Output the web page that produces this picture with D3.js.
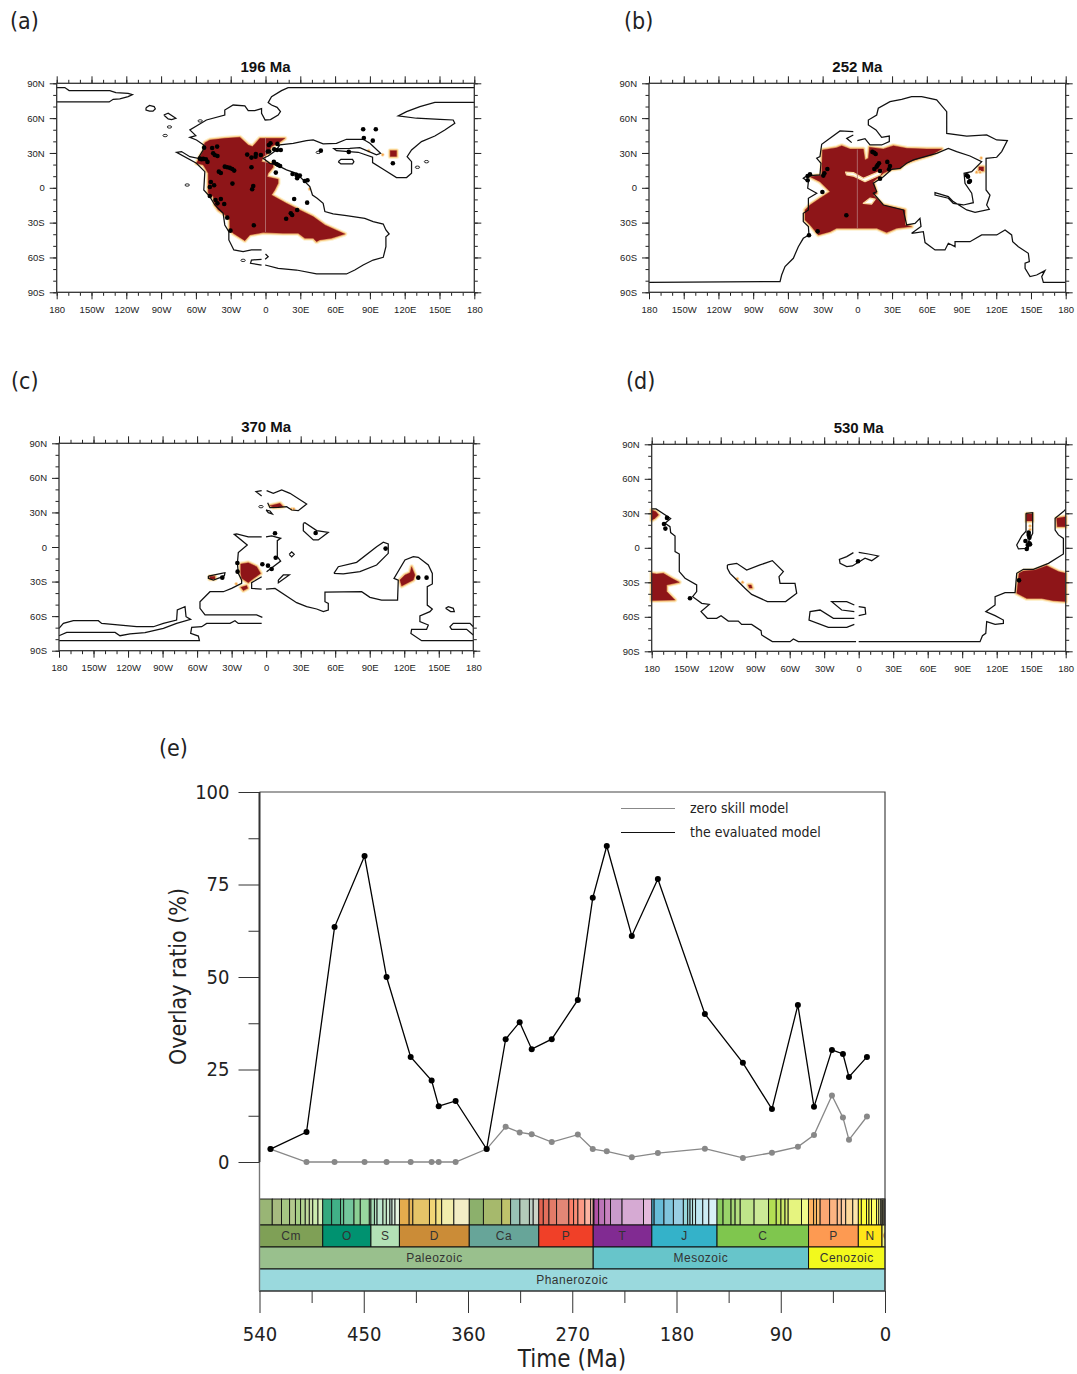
<!DOCTYPE html>
<html>
<head>
<meta charset="utf-8">
<script src="https://cdn.jsdelivr.net/npm/d3@7"></script>
<style>
  html, body { margin: 0; padding: 0; background: #fff; }
  svg { display: block; }
  text { font-family: "Liberation Sans", Arial, sans-serif; }
  .e-font { font-family: "DejaVu Sans Condensed", "DejaVu Sans", sans-serif; font-stretch: condensed; }
</style>
</head>
<body>
<div id="chart"></div>
<script>
//** map tick labels */
const lonTicks = [-180,-150,-120,-90,-60,-30,0,30,60,90,120,150,180];
const latTicks = [-90,-60,-30,0,30,60,90];
const lonMinor = d3.range(-180,181,10);
const latMinor = d3.range(-90,91,10);

//** (a) 196 Ma, all [lon, lat] */
const titleA = "196 Ma";
const coastA = [
  [[-180,86.3],[-173,86.3],[-169.3,83.7],[-134.2,83.7],[-129,82],[-118.4,81.4],[-114.7,80.2],[-118.4,78.5],[-125.6,76.5],[-131.3,76.2],[-134.8,73.9],[-180,73.9]],
  [[180,86.3],[19.5,86.3],[13.8,83.7],[5.2,78.5],[2.3,73.4],[5.2,71.3],[10,69.3],[12.9,65.6],[10.9,62.7],[4.3,58.7],[-0.3,58.4],[-3.4,64.2],[-3.4,68.2],[-9.2,66.5],[-14.9,66.5],[-17.8,70.5],[-27.9,71.3],[-35.1,67],[-35.1,62.7],[-50.9,58.4],[-58.1,54.1],[-65.2,49.8],[-60.1,44.9],[-65.2,43.5],[-59.5,41.2],[-53.2,36.9],[-53.7,32.6],[-58.1,25.4],[-65.2,26.8],[-72.4,31.2],[-76.7,30.6],[-59.5,21.1],[-52.3,13.9],[-53.2,-1.9],[-48,-7.6],[-43.7,-14.8],[-36.5,-22],[-35.1,-32],[-31.6,-37.8],[-31.6,-44.9],[-27.3,-53.5],[-19.3,-55],[-12.1,-53.5],[-3.4,-53.5]],
  [[-3.4,-61.6],[-12.1,-62.2],[-12.9,-65],[-3.4,-66.5]],
  [[0,-57],[2.3,-59.3],[-0.3,-61.6]],
  [[-0.3,-66.5],[10.9,-69.3],[26.7,-70.8],[44,-74.2],[69.8,-74.2],[77,-70.8],[84.2,-66.5],[92.8,-62.2],[101.5,-59.9],[103.8,-50.7],[103.8,-42.1],[106.6,-39.8],[103.8,-36.3],[101.5,-31.2],[92.8,-29.1],[85.6,-26.3],[69.8,-24],[58.3,-22.5],[51.2,-20.5],[49.7,-13.4],[44.5,-9],[40.5,-6.2],[38.2,1],[33.9,5.3],[26.7,12.5],[18.1,15.4],[9.5,19.7],[3.7,21.1],[-2,25.4],[2.3,27.4],[9.5,32.6],[12.4,36.9],[23.9,38.3],[35.3,40.6],[41.1,41.2],[49.7,37.8],[61.2,38.3],[69.8,41.8],[84.2,41.8],[90,38.3],[99.2,29.7],[95.7,28.3],[81.3,34.6],[72.7,34],[58.9,33.7],[61.2,32],[79.9,30.6],[92.3,26.3],[92.3,21.7],[101.5,15.9],[112.9,8.8],[121.6,8.8],[125.9,12.5],[125.9,22.5],[122.1,26.8],[125.9,32.6],[134.5,39.8],[146,44.6],[154.6,49.8],[163.2,55.6],[161.8,58.4],[150.3,59],[130.2,59.9],[114.4,61.9],[121.6,65.6],[133.1,69.9],[146,73.6],[180,73.6]],
  [[-103,69],[-100,71],[-96,70],[-95,68],[-97,66],[-100,66],[-103,67],[-103,69]],
  [[-87.7,62.7],[-83.9,64.2],[-77.3,59.9],[-81,58.7],[-83.9,59.3],[-87.7,62.7]],
  [[62.7,22.5],[65,24.5],[75,24.5],[76.2,22.5],[75,20.5],[65,20.5],[62.7,22.5]]
];
const tinyA = [[-82.8,52.4],[-86.5,45],[-56.3,57.6],[-67.5,2.4],[-19.3,-62.5],[45.5,30.5],[131,17.7],[138.8,22.5]];
const redA = [
  [[-53.2,35.5],[-52.3,38.9],[-48,41.2],[-35.1,42.6],[-22.1,43.5],[-14.9,36.9],[-11.2,35.5],[-4.9,42.6],[16.7,42.6],[10.9,38.3],[5.2,35.5],[2.3,29.7],[-2,26.8],[-3.4,22.5],[6.6,20.5],[6.6,17.7],[2.3,12.5],[1.4,9.6],[10.9,7.3],[10.9,3.9],[8,-1.9],[5.2,-6.2],[18.1,-13.4],[29.6,-19.1],[41.1,-24.8],[51.2,-32],[68.4,-39.8],[56.9,-43.5],[46.8,-44.9],[44,-46.4],[41.1,-43.5],[33.9,-43.5],[28.2,-39.2],[15.2,-39.2],[-2,-38.6],[-13.5,-40.6],[-17.8,-45.5],[-27.9,-39.2],[-30.8,-36.3],[-30.8,-27.7],[-36.5,-22],[-40.8,-19.1],[-43.7,-14.8],[-45.1,-7.6],[-49.4,-4.7],[-49.4,12.5],[-53.7,19.7],[-59.5,21.1],[-56.6,26.8],[-53.2,32.6]],
  [[107.5,32],[113,32],[113,27],[107.5,27]]
];
const holesA = [];
const spotsA = [[101,28.5],[38,-1],[89,32]];
const seamA = [43,-38];
const dotsA = [[-52.9,34.6],[-46,34.3],[-41.7,35.5],[-45.1,29.7],[-43.7,28.3],[-41.4,27.4],[-56.6,25.1],[-55.2,24.6],[-53.7,24.9],[-51.4,24.6],[-50,22.3],[-35.1,18.2],[-33,17.7],[-30.8,17.2],[-28.7,16.2],[-27,14.8],[-40.2,13.9],[-38.5,12.8],[-47.1,5],[-44.3,2.2],[-48,0.7],[-28.5,3.6],[-10.6,1.6],[-11.5,-1.3],[-15.8,28.6],[-12.1,26],[-8.3,29.1],[-8.6,26.8],[-4,28.3],[-12.1,17.7],[-48,-7],[-38.5,-9.6],[-43.1,-10.5],[-41.4,-13.4],[-35.6,-13.9],[-33,-25.7],[-30.2,-36.9],[-10.1,-32.3],[2,31.2],[3.2,31.2],[4.3,38.3],[2.9,36.9],[10.3,37.8],[7.5,33.2],[10,32.6],[13.2,32.6],[7.2,22.3],[9.5,20.5],[10.9,19.7],[12.6,18.8],[8.9,13.1],[23.3,11.9],[26.7,11.1],[28.2,10.1],[29.6,10.5],[27.3,8.2],[33.9,5.9],[36.2,6.5],[24.7,-9.6],[35.9,-12.8],[27.3,-19.1],[21.8,-22],[23,-23.4],[17.8,-26.6],[47.7,32],[71.8,30.9],[84.2,50.4],[95.1,50.4],[84.8,42.9],[92.5,40.6],[109.8,21.1]];

//** (b) 252 Ma */
const titleB = "252 Ma";
const coastB = [
  [[-3.5,48.4],[-15,49],[-30.8,37.5],[-32.3,26.8],[-35.1,25.4],[-31.4,21.1],[-32.3,11.1],[-43.8,10.2],[-46.7,8.2],[-42.3,5.3],[-42.9,-0.4],[-35.1,-4.7],[-42.3,-9],[-42.3,-19.1],[-46.7,-22],[-46.7,-29.1],[-42.3,-33.4],[-41.8,-40.6],[-46.7,-43.5],[-51,-50.7],[-55.3,-60.7],[-62.5,-67.9],[-65.4,-75.1],[-66.8,-80.8],[-180,-81.4]],
  [[-3.5,45.5],[-9.2,42.6],[-4.9,38.9]],
  [[0,40.6],[6.6,42.3],[10.9,36.9],[21,36.9],[27.6,39.8],[27.6,44.6],[21,43.5],[16.1,49.8],[9.5,54.1],[9.5,58.4],[16.7,62.7],[18.1,68.5],[28.2,74.2],[38.3,76.2],[46.9,78.5],[55.6,78.5],[68.5,75.7],[77.2,65.6],[77.2,46.9],[94.5,44.6],[111.7,45.5],[120.4,41.2],[129.6,40.6],[124.7,31.2],[120.4,26.3],[111.2,25.4],[111.2,-1.9],[114.6,-6.2],[111.7,-14.8],[114,-18.5],[101.7,-21.1],[94.5,-19.1],[82.9,-11.9],[78.6,-7.6],[67.1,-4.2],[67.1,-6.2],[78.6,-9],[82.9,-13.4],[91.6,-14.8],[100.2,-12.8],[98.8,-4.7],[93,3.9],[92.2,12.5],[98.8,13.9],[107.4,22.5],[97.3,27.4],[85.8,31.2],[78.6,34],[68.5,29.7],[48.4,24],[42.6,21.1],[36.9,16.8],[29.7,15.9],[22.5,9.6],[13.8,3.9],[16.7,-3.3],[13.8,-4.7],[22.5,-14.8],[39.7,-19.1],[42.6,-32],[49.8,-30.6],[54.1,-26.3],[55,-33.4],[46.9,-39.2],[57,-37.8],[58.5,-47.2],[67.1,-53.5],[75.7,-53.5],[78.6,-47.8],[84.4,-50.7],[84.4,-46.4],[97.3,-46.4],[107.4,-40.6],[120.4,-40.6],[127.6,-36.3],[133.3,-40.6],[134.2,-46.4],[139.1,-50.7],[147.7,-56.4],[148.6,-63.6],[144.9,-65],[144.9,-69.3],[149.2,-76.5],[154.9,-75.1],[162.1,-71.3],[159.3,-76.5],[160.7,-81.4],[180,-81.4]]
];
const tinyB = [];
const redB = [
  [[-30.2,32.6],[-17.9,34.6],[-13.5,36.3],[-6.3,33.4],[5.2,33.4],[6.6,24],[9.5,25.4],[10.4,34.9],[22.5,33.4],[31.1,36.3],[42.6,34],[59.9,33.4],[72.9,33.4],[64.2,28.3],[54.1,25.4],[45.5,22.5],[39.7,19.7],[36.9,16.8],[29.7,15.9],[22.5,12.5],[13.8,5.3],[16.7,-4.7],[13.8,-6.2],[22.5,-14.8],[41.2,-19.1],[41.2,-32],[46.9,-33.4],[34,-34.9],[25.3,-38.6],[16.7,-34.9],[-6.3,-34.9],[-17.9,-34.9],[-23.6,-37.8],[-33.7,-40.6],[-40.9,-32],[-45.2,-27.7],[-45.2,-19.1],[-40.9,-14.8],[-32.3,-9],[-23.6,-3.3],[-32.3,5.3],[-40.9,9.6],[-30.8,11.1]],
  [[105,18],[109,18],[109,14.5],[105,14.5]]
];
const holesB = [
  [[-10.1,13.4],[-3.5,13.1],[5.2,8.2],[21,14.8],[19.6,11.1],[6.6,5.3],[-3.5,10.2],[-9.2,11.1]],
  [[5.2,-13.4],[10.9,-9],[15.3,-9.9],[12.4,-13.9]]
];
const spotsB = [[107,25.7],[103,13.5],[106,13.5]];
const seamB = [33,-35];
const dotsB = [[13,30.9],[14.6,30.2],[15.8,29.1],[18.7,21.1],[17.6,19.7],[16.7,18.2],[14.7,16.2],[19.6,14.5],[25.9,22.3],[28.2,18.8],[27.4,15.9],[19.6,7.9],[-25.9,16.2],[-28.5,12.5],[-29.4,10.5],[-40.9,11.6],[-42.9,10.2],[-42.9,6.5],[-30.2,-3.6],[-9.5,-23.7],[-34.3,-37.5],[-41.8,-40.9],[94.5,10.8],[95.6,9.6],[97.3,5.9],[96.5,5]];

//** (c) 370 Ma */
const titleC = "370 Ma";
const coastC = [
  [[0.4,48.9],[6.2,46.6],[13.5,49.5],[20.7,46.6],[35.2,37.3],[27.9,31.5],[22.2,32.1],[17.8,35],[10.6,34.4],[3.3,34.1],[1.3,38.5]],
  [[-3.9,48.9],[-8.8,48],[-3.9,44.3]],
  [[0,32.1],[3.3,31.3],[5.4,28.7],[1.9,29.8],[0,32.1]],
  [[32.3,20.5],[33.7,21.1],[43.9,14.2],[54,12.7],[45.3,6.1],[41,6.1],[32.3,14.2],[32.3,20.5]],
  [[-3.9,8.7],[-15.5,8.7],[-25.6,11.3],[-27.7,11],[-16.4,1.7],[-24.2,-4.9],[-25,-14.2],[-24.2,-22.9],[-21.3,-28.7],[-21.3,-31.5],[-30,-35.9],[-37.2,-38.8],[-48.8,-38.8],[-57.5,-47.5],[-57.5,-53.2],[-53.1,-59],[-8.3,-59],[-3.3,-61.1]],
  [[-0.1,8.7],[4.8,9.6],[12.6,7.5],[9.7,5.5],[9.7,-8.4],[12.6,-12.2],[0.4,-21.4]],
  [[-3.9,-25.8],[-12.6,-31],[-12.6,-35.9],[-3.9,-36.5]],
  [[-0.1,-36.5],[7.7,-35.9],[26.5,-48.3],[35.2,-51.8],[43.9,-53.8],[49.7,-56.1],[54,-54.7],[54,-48.9],[51.1,-47.5],[51.1,-39.1],[83,-38.8],[90.2,-43.7],[100.3,-46],[114.2,-46],[114.8,-28.7],[111.1,-27.2],[120.6,-11.3],[127.9,-8.4],[132.2,-9],[140.9,-15.6],[144.4,-22.9],[144.4,-32.1],[140,-34.4],[140,-50.4],[144.4,-53.8],[142.3,-56.1],[133.6,-59.9],[133.6,-64.8],[140.9,-67.7],[139.4,-71.5],[126.4,-71.5],[125.8,-75],[135.1,-81.3],[180,-81.3]],
  [[-3.9,-66.3],[-24.2,-66.3],[-27.1,-64],[-31.4,-66.3],[-51.7,-66.3],[-56,-69.2],[-64.7,-69.7],[-65.6,-75],[-58.9,-77.3],[-58,-81.3],[-180,-81.3]],
  [[-180,-70.6],[-176.2,-66.3],[-167.5,-64],[-145.8,-64],[-142.9,-66.3],[-112.5,-69.2],[-98,-69.2],[-89.3,-66.3],[-77.8,-63.4],[-77.2,-54.7],[-70.5,-51.8],[-69.6,-60.5],[-65.6,-62.8],[-77.8,-66.3],[-89.3,-70.6],[-105.3,-74.4],[-118.3,-75.5],[-127,-77],[-131.3,-74.1],[-173.3,-74.1],[-180,-77]],
  [[180,-69.2],[177.1,-66.3],[162.6,-66.3],[159.7,-69.2],[161.2,-71.5],[174.2,-71.5],[180,-76.4]],
  [[155.9,-53.2],[158.3,-51.8],[162.6,-53.2],[163.5,-56.1],[160.3,-56.1],[155.9,-53.2]],
  [[20,-6.4],[22.2,-4.2],[24.4,-6.4],[22.2,-8.6],[20,-6.4]],
  [[10.6,-28.7],[14.9,-24.3],[20.1,-24.3],[10.6,-31],[10.6,-28.7]],
  [[-50.2,-25.2],[-38.7,-22.9],[-35.8,-22.3],[-36.3,-24.9],[-40.1,-26.6],[-45.9,-28.7],[-50.2,-27.2],[-50.2,-25.2]],
  [[58.9,-22.9],[62.7,-17.1],[78.6,-13.3],[96,0.3],[101.8,4.1],[106.1,2.6],[106.1,-5.5],[96,-15.6],[81.5,-21.4],[67,-23.4],[58.9,-22.9]]
];
const tinyC = [[-4.5,35]];
const redC = [
  [[-22.1,-14.8],[-15.5,-13.6],[-8.2,-17.1],[-4.8,-22.9],[-12.6,-28.7],[-15.5,-31],[-21.3,-27.2],[-22.1,-22.9]],
  [[-22,-35],[-16.9,-33.5],[-16,-35.9],[-19.8,-37.8]],
  [[-49,-25.5],[-44.5,-25.5],[-44.5,-27.8],[-49,-27.8]],
  [[3.3,35.9],[12,37.9],[14.9,35],[6.2,34.4]],
  [[116.2,-28.7],[120.6,-24.3],[125,-22.3],[126.4,-17.1],[129.3,-24.3],[127.9,-28.7],[117.8,-33.9]]
];
const holesC = [];
const spotsC = [[22.2,33],[24,33],[-26,-32]];
const seamC = null;
const dotsC = [[7.7,11.9],[43,12.2],[103.8,-1.4],[8.3,-9.3],[-25,-13.9],[-3.3,-15],[1.6,-16.2],[4.8,-19.1],[-24.8,-21.4],[-38.1,-26.6],[132.2,-26.6],[139.4,-26.6]];

//** (d) 530 Ma */
const titleD = "530 Ma";
const coastD = [
  [[-180,33.8],[-176.2,33.8],[-163.5,25.4],[-168.4,21.3],[-164.1,18.4],[-163.5,13.2],[-159.7,10.3],[-159.7,-3.3],[-156,-5.4],[-156,-20.7],[-151,-26.5],[-140.9,-32.3],[-140.9,-38.1],[-144.4,-42.5],[-136.5,-48.3],[-129.9,-49.2],[-137.1,-55.5],[-131.6,-61.3],[-123.5,-61.3],[-119.7,-59],[-113.4,-63.7],[-104.7,-63.7],[-101.8,-66.6],[-93.1,-66.6],[-84.9,-72.1],[-84.4,-75.8],[-75.1,-81.6],[-59.7,-81.6],[-56.8,-79.3],[-52.5,-81.6],[-2.3,-81.6]],
  [[0,-81.6],[105.5,-81.6],[107.6,-76.4],[110.5,-74.4],[111.3,-64.2],[118.6,-66.6],[125.8,-65.7],[125.8,-62.8],[118.6,-59],[110.5,-55.5],[118.6,-49.7],[118.6,-42.5],[127.3,-39],[136,-39],[137.4,-22.2],[143.2,-18.7],[151.9,-18.7],[165,-13.5],[178,-5.4],[178,8.2],[173.7,11.2],[170.8,15.5],[170.8,25.7],[178,31.5],[180,33.5]],
  [[145.5,30],[151.3,30.6],[151.3,12.6],[147.6,5.4],[147.6,-0.4],[138.9,-1],[137.4,2.5],[141.8,10.3],[145.5,14.4],[145.5,30]],
  [[-4.6,-4.2],[-10.4,-7.7],[-16.8,-10],[-16.2,-13.5],[-10.4,-16.4],[-5.5,-15.8],[5.5,-9.1],[11.3,-11.2],[17.1,-7.1],[8.4,-5.4],[0,-3.9]],
  [[-114.2,-14.9],[-106.1,-13.5],[-97.4,-19.3],[-85.8,-14.9],[-75.1,-11.2],[-65.5,-20.7],[-69.3,-25.1],[-68.4,-30.9],[-55.4,-30.9],[-53.9,-39.6],[-63.5,-46.8],[-79.4,-46.8],[-93.1,-40.5],[-98.9,-35.2],[-107.6,-26.5],[-111.9,-22.2],[-114.2,-17.8],[-114.2,-14.9]],
  [[-3.8,-49.7],[-10.4,-46.8],[-23.5,-46.8],[-14.8,-54.1],[-3.8,-55.5]],
  [[-3.8,-61.3],[-22,-61.3],[-33.6,-54.1],[-42.3,-55.5],[-43.2,-62.8],[-26.4,-69.2],[-10.4,-69.2],[-3.8,-66.6]],
  [[0,-51.2],[5.5,-52],[6.1,-57.6],[0,-59]]
];
const tinyD = [];
const redD = [
  [[-180,32.9],[-176.2,31.4],[-174.1,28.5],[-177,25.7],[-180,24]],
  [[-180,-22.2],[-175.7,-22.8],[-169.9,-22.2],[-162.6,-26.5],[-156,-30],[-167,-32.4],[-167,-38.1],[-159.8,-45.4],[-180,-45.9]],
  [[146,29.4],[151,29.4],[151,23.3],[146,23.3]],
  [[139.4,-22.2],[143.2,-20.2],[153.4,-19.3],[163.5,-15.5],[173.7,-20.7],[180,-22.2],[180,-46.8],[169.3,-46],[159.2,-44],[146.1,-44],[137.4,-39.6]],
  [[172.1,25.7],[180,27],[180,18.4],[172.7,18.4]],
  [[-96,-32.3],[-93.5,-32.3],[-92.6,-35],[-95,-35]]
];
const holesD = [];
const spotsD = [[149,19],[149,16],[-105.5,-27],[-101,-30]];
const seamD = null;
const dotsD = [[-166.7,26],[-169.3,20.7],[-168.1,16.7],[-146.7,-43.9],[-0.6,-11.7],[139.4,-28.3],[147.8,13.2],[147.8,11.2],[148.4,8.8],[145,5.9],[148.4,3.9],[147,2.5],[146.1,-1],[149,3]];

//** (e) series */
const ages = [530.5,499.4,475.2,449.3,430.3,409.5,391.4,385.3,370.7,343.9,327.5,315.4,305,287.7,265.2,252.3,240.2,218.6,196.1,155.5,122.7,97.6,75.2,61.3,45.8,36.3,31.1,15.6];
const evaluated = [3.5,8.1,63.5,82.7,50,28.4,22,15.1,16.5,3.5,33.2,37.8,30.5,33.2,43.8,71.4,85.4,61.1,76.5,40,26.8,14.3,42.4,14.9,30.3,29.2,23,28.4];
const zeroSkill = [3.5,0,0,0,0,0,0,0,0,3.5,9.5,8,7.5,5.4,7.4,3.5,2.9,1.3,2.4,3.6,1.1,2.5,4.1,7.3,18,12,6,12.3];
const yTicks = [0,25,50,75,100];
const yMinor = [12.5,37.5,62.5,87.5];
const timeTicks = [540,450,360,270,180,90,0];
const timeMinor = [495,405,315,225,135,45];
const legendNames = ["zero skill model","the evaluated model"];

//** geologic time scale, boundaries in Ma */
const stageAges = [540,529,521,514,509,504.5,500.5,497,494,489.5,485.4,477.7,470,467.3,458.4,453,445.2,443.8,440.8,438.5,433.4,430.5,427.4,425.6,423,419.2,410.8,407.6,393.3,387.7,382.7,372.2,358.9,346.7,330.9,323.2,315.2,307,303.7,298.9,295,290.1,283.5,272.95,268.8,265.1,259.1,254.1,251.9,251.2,247.2,242,237,227,208.5,201.3,199.3,190.8,182.7,174.1,170.3,168.3,166.1,163.5,157.3,152.1,145,139.8,132.9,129.4,125,113,100.5,93.9,89.8,86.3,83.6,72.1,66,61.6,59.2,56,47.8,41.2,37.7,33.9,27.8,23.03,20.44,15.97,13.82,11.63,7.25,5.33,3.6,2.58,1.8,0.78,0.13,0];
const stageColors = ["#99B575","#A6BA80","#A6C583","#B3CA8E","#A6CF86","#B3D492","#BFD99D","#CCDFAA","#CCEBAF","#D9F0BB",
  "#33A97E","#41B087","#66C092","#74C69C","#8CD094","#99D69F","#A6DBAB",
  "#A6DCB5","#B3E1C2","#BFE6CF","#BFE6C3","#CCEBD1","#CCECDD","#D9F0DF","#E6F5E1",
  "#E5AC4D","#E5B75A","#E5C468","#F1D576","#F1E185","#F2EDAD","#F2EDC5",
  "#8CB06C","#A6B96C","#BFC26B","#99C2B5","#B3CBB9","#BFD0C5","#CCD4C7",
  "#E36350","#E36F5C","#E37B68","#E38776","#FB8069","#FB8D76","#FB9A85","#FCB4A2","#FCC0B2",
  "#A4469F","#B051A5","#BC75B7","#C983BF","#C99BCB","#D6AAD3","#E3B9DB",
  "#4EB3D3","#67BCD8","#80C5DD","#99CEE3","#9AD9DD","#A6DDE0","#B3E2E3","#BFE7E5","#BFE7F1","#CCECF4","#D9F1F7",
  "#8CCD60","#99D36A","#A6D975","#B3DF7F","#BFE48A","#CCEA97","#B3DE53","#BFE35D","#CCE968","#D9EF74","#E6F47F","#F2FA8C",
  "#FDB462","#FEBF65","#FDBF6F","#FCA773","#FCB482","#FDC091","#FDCDA1","#FED99A","#FEE6AA",
  "#FFFF33","#FFFF41","#FFFF4D","#FFFF59","#FFFF66","#FFFF73","#FFFFB3","#FFFFBF","#FFF2AE","#FFF2BA","#FFF2C7","#FFF2D3"];
const periodNames = ["Cm","O","S","D","Ca","P","T","J","C","P","N","Q"];
const periodAges = [540,485.4,443.8,419.2,358.9,298.9,251.9,201.3,145,66,23.03,2.58,0];
const periodLabelAges = [512.7,464.6,431.5,389,328.9,275.4,226.6,173.2,105.5,44.5,12.8,-2.5];
const periodColors = ["#7FA056","#009270","#B3E1B6","#CB8C37","#67A599","#F04028","#812B92","#34B2C9","#7FC64E","#FD9A52","#FFE619","#F9F97F"];
const eraNames = ["Paleozoic","Mesozoic","Cenozoic"];
const eraAges = [540,251.9,66,0];
const eraLabelAges = [389,159,33];
const eraColors = ["#99C08D","#67C5CA","#F2F91D"];
const eonNames = ["Phanerozoic"];
const eonAges = [540,0];
const eonLabelAges = [270];
const eonColors = ["#9AD9DD"];

//** d3 */
const svg = d3.select("#chart").append("svg").attr("width",1077).attr("height",1374);
svg.append("rect").attr("width",1077).attr("height",1374).attr("fill","#fff");

const lonFormat = d => d === 0 || Math.abs(d) === 180 ? String(Math.abs(d)) : Math.abs(d) + (d < 0 ? "W" : "E");
const latFormat = d => d === 0 ? "0" : Math.abs(d) + (d < 0 ? "S" : "N");

function drawMap(cfg) {
  const x = d3.scaleLinear().domain([-180,180]).range([cfg.x0,cfg.x1]);
  const y = d3.scaleLinear().domain([-90,90]).range([cfg.y1,cfg.y0]);
  const line = d3.line().x(d => x(d[0])).y(d => y(d[1]));
  const g = svg.append("g");

  // glow then red, the colour scale of the original is a smooth edge
  const layers = [["#fdf1cf",5],["#f8c57c",2.8],["#8e1518",0.4]];
  layers.forEach(([col,w]) => {
    g.selectAll(null).data(cfg.red).join("path")
      .attr("d", d => line(d) + "Z")
      .attr("fill", "#8e1518")
      .attr("stroke", col).attr("stroke-width", w).attr("stroke-linejoin","round");
  });
  // spots with only the edge colours
  g.selectAll(null).data(cfg.spots).join("circle")
    .attr("cx", d => x(d[0])).attr("cy", d => y(d[1])).attr("r", 1.5)
    .attr("fill","#f5a04a").attr("stroke","#fde4b4").attr("stroke-width",0.8);
  cfg.holes.forEach(h => {
    g.append("path").attr("d", line(h) + "Z").attr("fill","#fff")
      .attr("stroke","#f9d79c").attr("stroke-width",1.4).attr("stroke-linejoin","round");
  });
  if (cfg.seam) {
    g.append("line").attr("x1",x(0)).attr("x2",x(0)).attr("y1",y(cfg.seam[0])).attr("y2",y(cfg.seam[1]))
      .attr("stroke","#b8787a").attr("stroke-width",0.8);
  }

  g.selectAll(null).data(cfg.coast).join("path")
    .attr("d", line).attr("fill","none").attr("stroke","#111").attr("stroke-width",1.25);
  g.selectAll(null).data(cfg.tiny).join("ellipse")
    .attr("cx", d => x(d[0])).attr("cy", d => y(d[1])).attr("rx",2.2).attr("ry",1.2)
    .attr("fill","none").attr("stroke","#111").attr("stroke-width",0.9);
  g.selectAll(null).data(cfg.dots).join("circle")
    .attr("cx", d => x(d[0])).attr("cy", d => y(d[1])).attr("r",2.3).attr("fill","#000");

  // axes
  const addAxis = (axis, tx, ty, labels) => {
    const a = svg.append("g").attr("transform",`translate(${tx},${ty})`).call(axis);
    a.select(".domain").remove();
    a.selectAll("line").attr("stroke","#222").attr("stroke-width",1);
    a.selectAll("text").attr("font-size",9.5).attr("fill","#222").style("display",labels ? null : "none");
  };
  addAxis(d3.axisBottom(x).tickValues(lonMinor).tickSize(3.5).tickFormat(""), 0, cfg.y1, false);
  addAxis(d3.axisTop(x).tickValues(lonMinor).tickSize(3.5).tickFormat(""), 0, cfg.y0, false);
  addAxis(d3.axisLeft(y).tickValues(latMinor).tickSize(3.5).tickFormat(""), cfg.x0, 0, false);
  addAxis(d3.axisRight(y).tickValues(latMinor).tickSize(3.5).tickFormat(""), cfg.x1, 0, false);
  addAxis(d3.axisBottom(x).tickValues(lonTicks).tickSize(7).tickPadding(6.5).tickFormat(lonFormat), 0, cfg.y1, true);
  addAxis(d3.axisTop(x).tickValues(lonTicks).tickSize(7).tickFormat(""), 0, cfg.y0, false);
  addAxis(d3.axisLeft(y).tickValues(latTicks).tickSize(7).tickPadding(5).tickFormat(latFormat), cfg.x0, 0, true);
  addAxis(d3.axisRight(y).tickValues(latTicks).tickSize(7).tickFormat(""), cfg.x1, 0, false);
  svg.append("rect").attr("x",cfg.x0).attr("y",cfg.y0).attr("width",cfg.x1-cfg.x0).attr("height",cfg.y1-cfg.y0)
    .attr("fill","none").attr("stroke","#333").attr("stroke-width",1.3);

  svg.append("text").attr("x",(cfg.x0+cfg.x1)/2).attr("y",cfg.y0-11).attr("text-anchor","middle")
    .attr("font-size",15).attr("font-weight","bold").attr("fill","#111").text(cfg.title);
  svg.append("text").attr("class","e-font").attr("x",cfg.tagX).attr("y",cfg.tagY).attr("font-size",23).attr("fill","#222").text(cfg.tag);
}

drawMap({tag:"(a)",tagX:10,tagY:29,title:titleA,x0:56.7,x1:474.3,y0:83.3,y1:292.3,coast:coastA,tiny:tinyA,red:redA,holes:holesA,spots:spotsA,seam:seamA,dots:dotsA});
drawMap({tag:"(b)",tagX:624,tagY:29,title:titleB,x0:649,x1:1065.7,y0:83.3,y1:292.3,coast:coastB,tiny:tinyB,red:redB,holes:holesB,spots:spotsB,seam:seamB,dots:dotsB});
drawMap({tag:"(c)",tagX:11,tagY:389,title:titleC,x0:59,x1:473.3,y0:443.3,y1:650.7,coast:coastC,tiny:tinyC,red:redC,holes:holesC,spots:spotsC,seam:seamC,dots:dotsC});
drawMap({tag:"(d)",tagX:626,tagY:389,title:titleD,x0:651.7,x1:1065.7,y0:444.3,y1:651.3,coast:coastD,tiny:tinyD,red:redD,holes:holesD,spots:spotsD,seam:seamD,dots:dotsD});

//** panel e */
const xTime = d3.scaleLinear().domain([540,0]).range([259.5,885]);
const yRatio = d3.scaleLinear().domain([0,100]).range([1162,792]);
const bandTop = [1199,1225,1247,1269];
const bandBottom = 1291;

svg.append("text").attr("class","e-font").attr("x",159).attr("y",756).attr("font-size",23).attr("fill","#222").text("(e)");

svg.append("clipPath").attr("id","bandClip").append("rect")
  .attr("x",259).attr("y",1199).attr("width",626).attr("height",92);

const bands = [
  {bounds:stageAges,colors:stageColors,names:null,labelAges:null},
  {bounds:periodAges,colors:periodColors,names:periodNames,labelAges:periodLabelAges},
  {bounds:eraAges,colors:eraColors,names:eraNames,labelAges:eraLabelAges},
  {bounds:eonAges,colors:eonColors,names:eonNames,labelAges:eonLabelAges}
];
bands.forEach((b,i) => {
  const top = bandTop[i], bottom = i < 3 ? bandTop[i+1] : bandBottom;
  const cells = b.colors.map((c,j) => ({c, a0:b.bounds[j], a1:b.bounds[j+1], name:b.names ? b.names[j] : null, labelAge:b.labelAges ? b.labelAges[j] : null}));
  svg.append("g").selectAll("rect").data(cells).join("rect")
    .attr("x", d => xTime(d.a0)).attr("y", top)
    .attr("width", d => xTime(d.a1)-xTime(d.a0)).attr("height", bottom-top)
    .attr("fill", d => d.c).attr("stroke","#111").attr("stroke-width", i === 0 ? 0.9 : 1);
  if (b.names) {
    svg.append("g").attr("clip-path","url(#bandClip)").selectAll("text").data(cells).join("text")
      .attr("x", d => xTime(d.labelAge)).attr("y",(top+bottom)/2+4)
      .attr("text-anchor","middle").attr("font-size",12).attr("letter-spacing",0.5)
      .attr("fill","#333").text(d => d.name);
  }
});

// frame
svg.append("path").attr("d",`M${xTime(540)},792H885V${bandBottom}`).attr("fill","none").attr("stroke","#444").attr("stroke-width",1.2);
svg.append("line").attr("x1",xTime(540)).attr("x2",xTime(540)).attr("y1",792).attr("y2",yRatio(0)).attr("stroke","#333").attr("stroke-width",2);
svg.append("line").attr("x1",xTime(540)).attr("x2",xTime(540)).attr("y1",yRatio(0)).attr("y2",bandBottom).attr("stroke","#777").attr("stroke-width",1.4);
svg.append("line").attr("x1",xTime(540)).attr("x2",885).attr("y1",bandBottom).attr("y2",bandBottom).attr("stroke","#444").attr("stroke-width",1.2);

// y axis
const yAxisG = svg.append("g").attr("transform",`translate(${xTime(540)},0)`)
  .call(d3.axisLeft(yRatio).tickValues(yTicks).tickSize(21).tickPadding(9));
yAxisG.select(".domain").remove();
yAxisG.selectAll("line").attr("stroke","#333");
yAxisG.selectAll("text").attr("class","e-font").attr("font-size",20).attr("fill","#222");
const yMinorG = svg.append("g").attr("transform",`translate(${xTime(540)},0)`)
  .call(d3.axisLeft(yRatio).tickValues(yMinor).tickSize(11).tickFormat(""));
yMinorG.select(".domain").remove();
yMinorG.selectAll("line").attr("stroke","#333");

// time axis
const xAxisG = svg.append("g").attr("transform",`translate(0,${bandBottom})`)
  .call(d3.axisBottom(xTime).tickValues(timeTicks).tickSize(22).tickPadding(14));
xAxisG.select(".domain").remove();
xAxisG.selectAll("line").attr("stroke","#333");
xAxisG.selectAll("text").attr("class","e-font").attr("font-size",20).attr("fill","#222");
const xMinorG = svg.append("g").attr("transform",`translate(0,${bandBottom})`)
  .call(d3.axisBottom(xTime).tickValues(timeMinor).tickSize(12).tickFormat(""));
xMinorG.select(".domain").remove();
xMinorG.selectAll("line").attr("stroke","#333");

svg.append("text").attr("class","e-font").attr("x",572).attr("y",1367).attr("text-anchor","middle")
  .attr("font-size",24).attr("fill","#222").text("Time (Ma)");
svg.append("text").attr("class","e-font").attr("transform","translate(186,976.5) rotate(-90)").attr("text-anchor","middle")
  .attr("font-size",23).attr("fill","#222").text("Overlay ratio (%)");

// series
const seriesLine = d3.line().x((d,i) => xTime(ages[i])).y(d => yRatio(d));
[[zeroSkill,"#888",1.3],[evaluated,"#000",1.3]].forEach(([vals,col,w]) => {
  svg.append("path").attr("d",seriesLine(vals)).attr("fill","none").attr("stroke",col).attr("stroke-width",w);
  svg.append("g").selectAll("circle").data(vals).join("circle")
    .attr("cx",(d,i) => xTime(ages[i])).attr("cy",d => yRatio(d)).attr("r",3).attr("fill",col);
});

// legend
const legendColors = ["#888","#111"];
const legendY = [808.5,832.5];
legendNames.forEach((n,i) => {
  svg.append("line").attr("x1",621).attr("x2",675).attr("y1",legendY[i]).attr("y2",legendY[i])
    .attr("stroke",legendColors[i]).attr("stroke-width",1);
  svg.append("text").attr("class","e-font").attr("x",690).attr("y",legendY[i]+4.5).attr("font-size",14).attr("fill","#222").text(n);
});
</script>
</body>
</html>
